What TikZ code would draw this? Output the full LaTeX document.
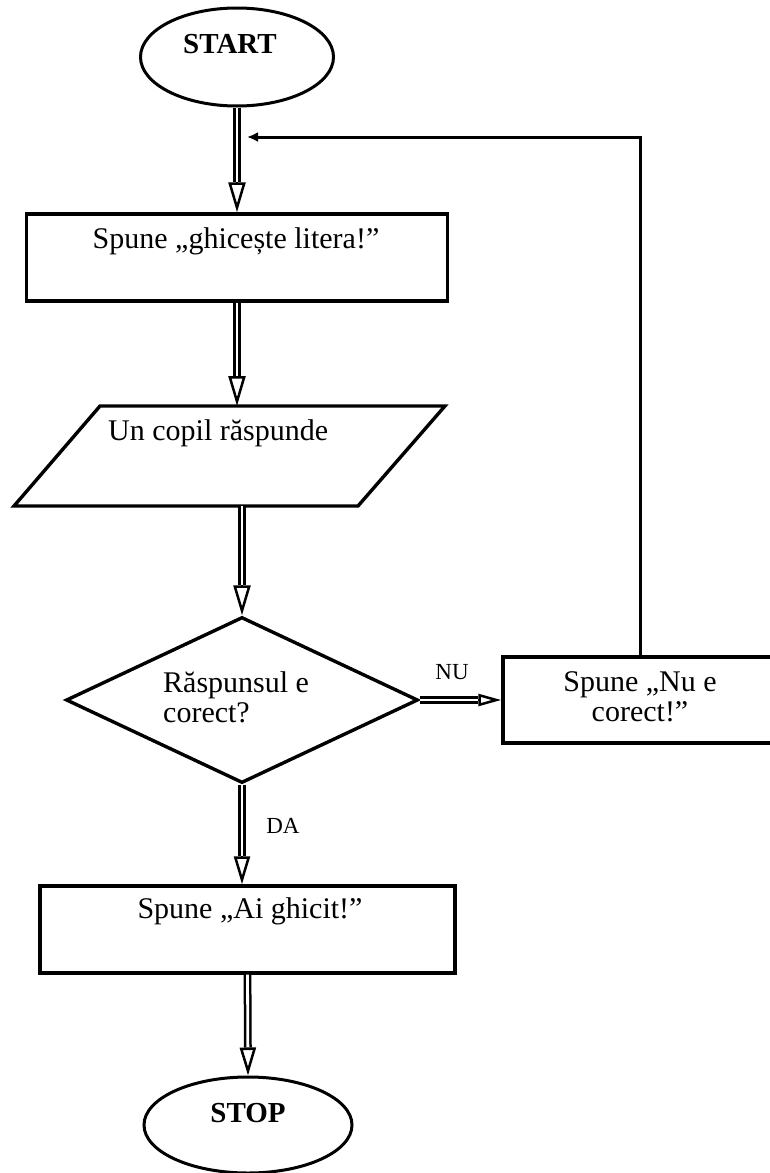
\documentclass[tikz,border=0pt]{standalone}
\usepackage{fontspec}
\setmainfont{Liberation Serif}
\usetikzlibrary{arrows.meta,shapes.geometric,calc}
\tikzset{
  shapeline/.style={draw=black, line width=3.4pt, line join=miter},
  term/.style={ellipse, draw=black, line width=3pt, inner sep=0pt},
  proc/.style={rectangle, draw=black, line width=3.4pt, inner sep=0pt},
  dec/.style={diamond, draw=black, line width=3.4pt, inner sep=0pt, aspect=2.12},
  txt/.style={font=\fontsize{30}{30}\selectfont, inner sep=0pt},
  bigbold/.style={font=\fontsize{29}{30}\selectfont\bfseries, inner sep=0pt},
  lbl/.style={font=\fontsize{23}{24}\selectfont, inner sep=0pt},
  dblline/.style={draw=black, double=white, double distance=2.8pt, line width=2.5pt},
  fbline/.style={draw=black, line width=3pt, -{Latex[length=11pt,width=10pt]}},
}
% #1 from, #2 to, #3 head length, #4 head width
\newcommand\dblarr[4]{%
  \draw[dblline, shorten >=#3] (#1) -- (#2);
  \draw[line width=2.5pt, -{Triangle[open, length=#3, width=#4]}] ($(#2)!#3!(#1)$) -- (#2);
}
\begin{document}
\begin{tikzpicture}[x=1pt,y=-1pt]
\useasboundingbox (0,0) rectangle (769,1173);
% nodes
\node[term, minimum width=193pt, minimum height=98pt] (start) at (237,57) {};
\node[bigbold] (starttxt) at (230,44) {START};

\node[proc, minimum width=421pt, minimum height=87pt] (box1) at (237,257.5) {};
\node[txt, anchor=base] (t1) at (236,248) {Spune „ghicește litera!”};

\draw[shapeline] (100,406) -- (445,406) -- (358,506) -- (14,506) -- cycle;
\coordinate (pin) at (237,406);
\coordinate (pout) at (242,506);
\node[txt, anchor=base west] (t2) at (108,440) {Un copil răspunde};

\node[dec, minimum width=352pt, minimum height=166pt] (dec) at (242,700) {};
\node[txt, align=left, anchor=west] (t3) at (163,697) {Răspunsul e\\corect?};

\node[proc, minimum width=274pt, minimum height=86pt] (nubox) at (640,700) {};
\node[txt, align=center] (t4) at (640,697) {Spune „Nu e\\corect!”};

\node[proc, minimum width=415pt, minimum height=87pt] (box3) at (247.5,929.5) {};
\node[txt, anchor=base] (t5) at (250,918) {Spune „Ai ghicit!”};

\node[term, minimum width=208pt, minimum height=96pt] (stop) at (248,1125) {};
\node[bigbold] (stoptxt) at (248,1113) {STOP};

\node[lbl] (nu) at (452,672) {NU};
\node[lbl] (da) at (283,826) {DA};

% connectors
\dblarr{start.south}{box1.north}{30pt}{17pt}
\dblarr{box1.south}{pin}{30pt}{17pt}
\dblarr{pout}{dec.north}{30pt}{17pt}
\dblarr{dec.south}{dec.south |- box3.north}{28pt}{16pt}
\dblarr{box3.south}{stop.north}{28pt}{16pt}
\dblarr{dec.east}{nubox.west}{23pt}{12pt}

\coordinate (fbend) at (247,137);
\draw[fbline] (nubox.north) |- (fbend);
\end{tikzpicture}
\end{document}
